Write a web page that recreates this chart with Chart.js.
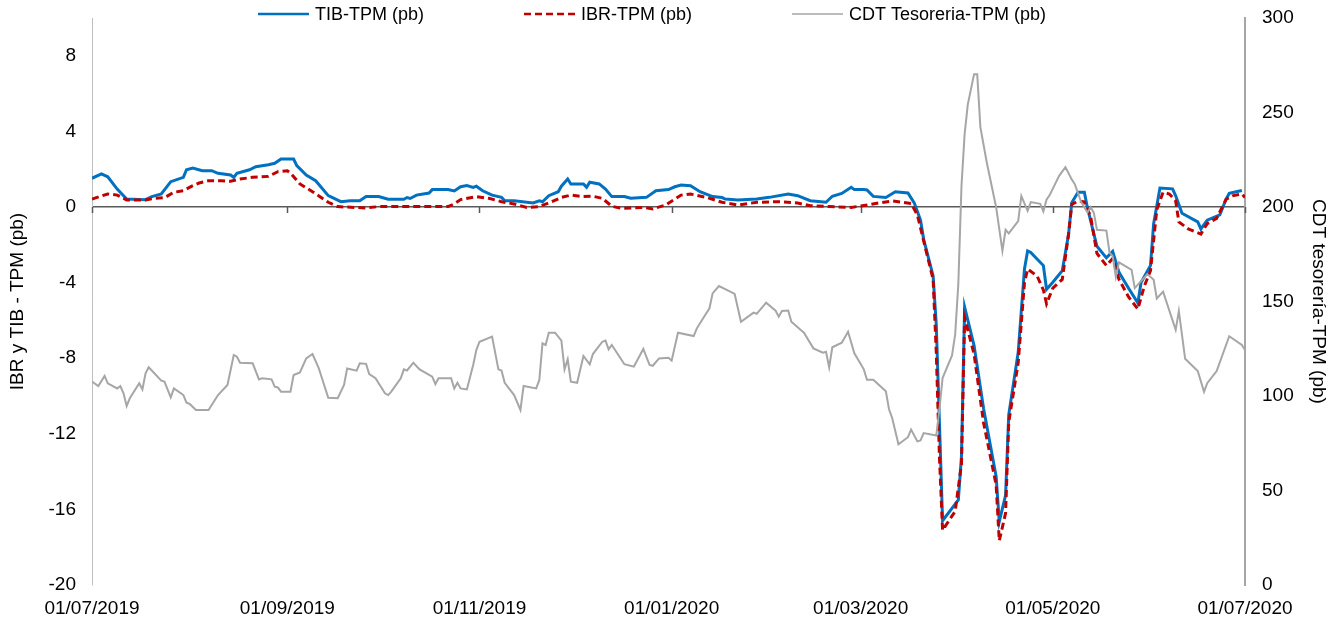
<!DOCTYPE html>
<html>
<head>
<meta charset="utf-8">
<script src="https://cdn.jsdelivr.net/npm/chart.js@4/dist/chart.umd.min.js"></script>
<style>
  html, body { margin: 0; padding: 0; background: #fff; }
  #wrap { width: 1337px; height: 625px; }
</style>
</head>
<body>
<div id="wrap"><canvas id="c" width="1337" height="625"></canvas></div>
<script>
// ---------------- DATA ----------------
const seriesNames = ['TIB-TPM (pb)', 'IBR-TPM (pb)', 'CDT Tesoreria-TPM (pb)'];
const xTickDates = ['2019-07-01','2019-09-01','2019-11-01','2020-01-01','2020-03-01','2020-05-01','2020-07-01'];
const leftTicksStep = 4;
const rightTicksStep = 50;

const tibDates = ['2019-07-01','2019-07-04','2019-07-06','2019-07-09','2019-07-12','2019-07-18','2019-07-20','2019-07-23','2019-07-26','2019-07-30','2019-07-31','2019-08-02','2019-08-05','2019-08-08','2019-08-10','2019-08-14','2019-08-15','2019-08-16','2019-08-20','2019-08-22','2019-08-26','2019-08-28','2019-08-30','2019-09-03','2019-09-04','2019-09-07','2019-09-10','2019-09-14','2019-09-18','2019-09-21','2019-09-24','2019-09-26','2019-09-30','2019-10-03','2019-10-08','2019-10-09','2019-10-10','2019-10-12','2019-10-16','2019-10-17','2019-10-22','2019-10-24','2019-10-26','2019-10-28','2019-10-30','2019-10-31','2019-11-02','2019-11-05','2019-11-08','2019-11-09','2019-11-12','2019-11-18','2019-11-20','2019-11-21','2019-11-23','2019-11-26','2019-11-27','2019-11-29','2019-11-30','2019-12-04','2019-12-05','2019-12-06','2019-12-09','2019-12-11','2019-12-13','2019-12-17','2019-12-19','2019-12-24','2019-12-27','2019-12-31','2020-01-02','2020-01-04','2020-01-07','2020-01-10','2020-01-14','2020-01-17','2020-01-18','2020-01-22','2020-01-28','2020-02-01','2020-02-07','2020-02-10','2020-02-14','2020-02-19','2020-02-21','2020-02-24','2020-02-27','2020-02-28','2020-03-02','2020-03-03','2020-03-05','2020-03-09','2020-03-12','2020-03-16','2020-03-18','2020-03-20','2020-03-21','2020-03-24','2020-03-25','2020-03-26','2020-03-27','2020-04-01','2020-04-02','2020-04-03','2020-04-06','2020-04-09','2020-04-13','2020-04-14','2020-04-16','2020-04-17','2020-04-20','2020-04-22','2020-04-23','2020-04-24','2020-04-28','2020-04-29','2020-05-01','2020-05-04','2020-05-06','2020-05-07','2020-05-09','2020-05-11','2020-05-12','2020-05-15','2020-05-18','2020-05-20','2020-05-22','2020-05-25','2020-05-28','2020-05-29','2020-06-01','2020-06-02','2020-06-04','2020-06-08','2020-06-09','2020-06-11','2020-06-16','2020-06-17','2020-06-19','2020-06-23','2020-06-25','2020-06-26','2020-06-30'];
const tibValues = [1.52,1.75,1.6,0.95,0.42,0.39,0.55,0.69,1.34,1.57,1.97,2.06,1.92,1.92,1.78,1.69,1.57,1.78,1.97,2.13,2.24,2.31,2.54,2.54,2.19,1.69,1.39,0.6,0.28,0.33,0.33,0.55,0.55,0.41,0.41,0.5,0.45,0.63,0.74,0.92,0.92,0.85,1.07,1.13,1.04,1.1,0.86,0.63,0.51,0.33,0.33,0.21,0.33,0.28,0.6,0.81,1.1,1.48,1.22,1.22,1.04,1.31,1.22,0.95,0.55,0.55,0.46,0.51,0.86,0.92,1.07,1.16,1.13,0.81,0.55,0.5,0.42,0.37,0.42,0.51,0.69,0.6,0.33,0.25,0.57,0.72,1.04,0.92,0.92,0.9,0.56,0.5,0.81,0.74,0.22,-0.7,-1.71,-3.65,-6.23,-11.4,-16.6,-15.5,-13.2,-5.3,-7.33,-10.65,-14.25,-16.65,-15.26,-11.0,-7.7,-3.28,-2.32,-2.4,-3.1,-4.35,-3.98,-3.37,-1.43,0.22,0.78,0.78,-0.05,-2.08,-2.69,-2.35,-3.46,-4.29,-5.08,-4.0,-3.1,-0.88,1.0,0.96,0.59,-0.33,-0.79,-1.16,-0.7,-0.42,0.41,0.72,0.87];

const ibrDates = ['2019-07-01','2019-07-06','2019-07-09','2019-07-12','2019-07-18','2019-07-21','2019-07-24','2019-07-27','2019-07-30','2019-08-02','2019-08-04','2019-08-07','2019-08-11','2019-08-14','2019-08-17','2019-08-21','2019-08-26','2019-08-29','2019-09-01','2019-09-02','2019-09-05','2019-09-09','2019-09-14','2019-09-17','2019-09-26','2019-09-30','2019-10-22','2019-10-24','2019-10-26','2019-10-31','2019-11-04','2019-11-08','2019-11-12','2019-11-16','2019-11-20','2019-11-24','2019-11-27','2019-11-30','2019-12-04','2019-12-07','2019-12-10','2019-12-13','2019-12-16','2019-12-23','2019-12-26','2019-12-30','2020-01-02','2020-01-04','2020-01-07','2020-01-12','2020-01-17','2020-01-22','2020-01-28','2020-02-04','2020-02-10','2020-02-14','2020-02-20','2020-02-27','2020-03-01','2020-03-07','2020-03-11','2020-03-17','2020-03-19','2020-03-21','2020-03-24','2020-03-25','2020-03-26','2020-03-27','2020-03-31','2020-04-02','2020-04-03','2020-04-06','2020-04-09','2020-04-13','2020-04-14','2020-04-16','2020-04-17','2020-04-20','2020-04-22','2020-04-23','2020-04-26','2020-04-28','2020-04-29','2020-05-01','2020-05-04','2020-05-06','2020-05-07','2020-05-09','2020-05-11','2020-05-13','2020-05-15','2020-05-18','2020-05-20','2020-05-22','2020-05-25','2020-05-28','2020-05-30','2020-06-01','2020-06-03','2020-06-05','2020-06-07','2020-06-09','2020-06-10','2020-06-13','2020-06-17','2020-06-19','2020-06-22','2020-06-25','2020-06-27','2020-06-30','2020-07-01'];
const ibrValues = [0.42,0.69,0.63,0.37,0.37,0.46,0.49,0.78,0.86,1.13,1.27,1.39,1.39,1.36,1.48,1.57,1.62,1.87,1.92,1.8,1.22,0.81,0.25,0.02,-0.05,0.02,0.02,0.16,0.39,0.55,0.46,0.28,0.16,-0.02,0.02,0.28,0.51,0.63,0.55,0.57,0.46,0.04,-0.07,-0.02,-0.1,0.1,0.42,0.63,0.69,0.51,0.25,0.1,0.25,0.28,0.21,0.07,0.02,-0.02,0.05,0.22,0.32,0.19,-0.42,-1.8,-3.83,-7.7,-13.2,-17.1,-16.1,-13.6,-5.86,-7.78,-11.4,-14.7,-17.66,-16.2,-11.4,-8.25,-4.0,-3.28,-3.65,-4.39,-5.12,-4.29,-3.83,-1.43,0.13,0.32,0.27,-0.51,-2.45,-3.1,-2.72,-3.83,-4.75,-5.4,-4.2,-3.37,-0.14,0.78,0.69,0.32,-0.79,-1.16,-1.43,-0.88,-0.6,0.41,0.59,0.69,0.5];

const cdtDates = ['2019-07-01','2019-07-03','2019-07-05','2019-07-06','2019-07-09','2019-07-10','2019-07-11','2019-07-12','2019-07-13','2019-07-16','2019-07-17','2019-07-18','2019-07-19','2019-07-23','2019-07-24','2019-07-26','2019-07-27','2019-07-30','2019-07-31','2019-08-01','2019-08-03','2019-08-07','2019-08-08','2019-08-10','2019-08-13','2019-08-15','2019-08-16','2019-08-17','2019-08-21','2019-08-23','2019-08-24','2019-08-27','2019-08-28','2019-08-29','2019-08-30','2019-09-02','2019-09-03','2019-09-05','2019-09-07','2019-09-09','2019-09-11','2019-09-12','2019-09-14','2019-09-17','2019-09-19','2019-09-20','2019-09-23','2019-09-24','2019-09-26','2019-09-27','2019-09-29','2019-09-30','2019-10-02','2019-10-03','2019-10-04','2019-10-07','2019-10-08','2019-10-09','2019-10-11','2019-10-13','2019-10-17','2019-10-18','2019-10-19','2019-10-23','2019-10-24','2019-10-25','2019-10-26','2019-10-28','2019-10-30','2019-10-31','2019-11-01','2019-11-05','2019-11-07','2019-11-08','2019-11-09','2019-11-12','2019-11-14','2019-11-15','2019-11-19','2019-11-20','2019-11-21','2019-11-22','2019-11-23','2019-11-25','2019-11-27','2019-11-28','2019-11-29','2019-11-30','2019-12-02','2019-12-04','2019-12-06','2019-12-07','2019-12-10','2019-12-11','2019-12-12','2019-12-13','2019-12-17','2019-12-20','2019-12-23','2019-12-25','2019-12-26','2019-12-28','2019-12-31','2020-01-01','2020-01-03','2020-01-08','2020-01-09','2020-01-11','2020-01-13','2020-01-14','2020-01-16','2020-01-18','2020-01-21','2020-01-23','2020-01-27','2020-01-28','2020-01-31','2020-02-03','2020-02-04','2020-02-05','2020-02-07','2020-02-08','2020-02-11','2020-02-12','2020-02-15','2020-02-18','2020-02-19','2020-02-20','2020-02-21','2020-02-24','2020-02-26','2020-02-28','2020-03-02','2020-03-03','2020-03-05','2020-03-09','2020-03-10','2020-03-11','2020-03-13','2020-03-16','2020-03-17','2020-03-19','2020-03-20','2020-03-21','2020-03-25','2020-03-26','2020-03-27','2020-03-30','2020-03-31','2020-04-01','2020-04-02','2020-04-03','2020-04-04','2020-04-06','2020-04-07','2020-04-08','2020-04-10','2020-04-13','2020-04-15','2020-04-16','2020-04-17','2020-04-20','2020-04-21','2020-04-23','2020-04-24','2020-04-27','2020-04-28','2020-04-29','2020-04-30','2020-05-03','2020-05-05','2020-05-07','2020-05-08','2020-05-10','2020-05-12','2020-05-13','2020-05-14','2020-05-15','2020-05-18','2020-05-19','2020-05-20','2020-05-21','2020-05-22','2020-05-26','2020-05-27','2020-05-31','2020-06-02','2020-06-03','2020-06-05','2020-06-09','2020-06-10','2020-06-12','2020-06-16','2020-06-18','2020-06-19','2020-06-22','2020-06-26','2020-06-30','2020-07-01'];
const cdtValues = [107.6,105.3,110.6,106.7,104,105.3,101.4,94.7,98.8,106.7,103.5,112,115.2,108.1,107.6,99.3,104,100.5,96.5,95.8,92.6,92.6,95.2,100.5,105.8,121.7,120.8,117.6,117.3,108.8,109.4,108.8,104.9,104.5,102.3,102.3,111.1,112.5,119.9,122.2,114.6,109.4,99.1,98.8,105.8,114.6,113.4,117.3,117,111.6,109.4,106.7,101.4,100.5,102.3,109.4,114.1,113.5,117.6,114.1,110.2,106.3,109.4,109.4,104,107,104,103.5,116.4,124.3,128.7,131.4,114.1,113.5,107,100.5,92.6,105.3,104,108.5,127.9,127,133.5,133.5,129.3,114.1,119.4,107.6,107,121.2,116.8,122.2,128.7,129.3,124.7,127,116.8,115.5,124.9,116.4,116,119.9,120.2,118.7,133.5,131.7,135.8,141.1,146.4,154.3,158.2,156.5,154,139.3,144.1,143.5,149.4,145.1,142,145,145.2,139.3,134.9,133.5,125.2,122.9,123.4,115.2,125.8,128.2,134,122.6,114.1,108.6,108.6,102.5,93,88.4,74.5,78.2,82.2,76,76.5,80.4,79.1,93,109.5,121.5,132.6,159.3,211,238.6,254.2,270.3,270.3,242.3,223.8,199.9,176.8,187.9,186,192.5,205.8,198,202.6,201.7,197.7,203.9,206.3,216.5,221.1,214.6,212,202.6,197.1,200,197,187.9,187.5,175.9,174,163,170.7,166.7,157.1,164.5,161.5,151.6,155.2,135,145,119.7,113.2,102.2,106.8,113.2,131.6,127,124.3];

// ---------------- HELPERS ----------------
const FONT = "'Liberation Sans', Arial, sans-serif";
const toTime = s => { const [y, m, d] = s.split('-').map(Number); return Date.UTC(y, m - 1, d); };
const pts = (dates, vals) => dates.map((d, i) => ({ x: toTime(d), y: vals[i] }));
const fmtDate = v => {
  const dt = new Date(v);
  const dd = String(dt.getUTCDate()).padStart(2, '0');
  const mm = String(dt.getUTCMonth() + 1).padStart(2, '0');
  return dd + '/' + mm + '/' + dt.getUTCFullYear();
};
const noPad = s => { s.paddingTop = 0; s.paddingBottom = 0; s.paddingLeft = 0; s.paddingRight = 0; };

// zero line tick marks on the x axis (drawn at y=0 of the left scale)
const zeroTicks = {
  id: 'zeroTicks',
  beforeDatasetsDraw(chart) {
    const x = chart.scales.x, y = chart.scales.yL, ctx = chart.ctx;
    const y0 = y.getPixelForValue(0);
    ctx.save();
    ctx.strokeStyle = '#595959';
    ctx.lineWidth = 1.5;
    x.ticks.forEach(t => {
      const px = Math.round(x.getPixelForValue(t.value)) + 0.5;
      ctx.beginPath();
      ctx.moveTo(px, y0);
      ctx.lineTo(px, y0 + 6);
      ctx.stroke();
    });
    ctx.restore();
  }
};

// legend drawn on top of the chart, as in the original
const topLegend = {
  id: 'topLegend',
  afterDraw(chart) {
    const ctx = chart.ctx;
    const lineLen = 51, gap = 6, itemGap = 100, yMid = 14;
    ctx.save();
    ctx.font = '18px ' + FONT;
    ctx.textBaseline = 'middle';
    const ds = chart.data.datasets;
    const widths = ds.map(d => lineLen + gap + ctx.measureText(d.label).width);
    const total = widths.reduce((a, b) => a + b, 0) + itemGap * (ds.length - 1);
    let x = 652 - total / 2;
    ds.forEach((d, i) => {
      ctx.beginPath();
      ctx.strokeStyle = d.borderColor;
      ctx.lineWidth = Math.max(1.5, d.borderWidth - 0.5);
      ctx.setLineDash(d.borderDash || []);
      ctx.moveTo(x, yMid);
      ctx.lineTo(x + lineLen, yMid);
      ctx.stroke();
      ctx.setLineDash([]);
      ctx.fillStyle = '#000';
      ctx.fillText(d.label, x + lineLen + gap, yMid + 1);
      x += widths[i] + itemGap;
    });
    ctx.restore();
  }
};

new Chart(document.getElementById('c'), {
  type: 'line',
  data: {
    datasets: [
      { label: seriesNames[0], data: pts(tibDates, tibValues), yAxisID: 'yL',
        borderColor: '#0070C0', borderWidth: 3, pointRadius: 0, tension: 0, order: 2 },
      { label: seriesNames[1], data: pts(ibrDates, ibrValues), yAxisID: 'yL',
        borderColor: '#C00000', borderWidth: 3, borderDash: [7, 4], pointRadius: 0, tension: 0, order: 1 },
      { label: seriesNames[2], data: pts(cdtDates, cdtValues), yAxisID: 'yR',
        borderColor: '#A6A6A6', borderWidth: 2, pointRadius: 0, tension: 0, order: 0 }
    ]
  },
  options: {
    responsive: false,
    animation: false,
    devicePixelRatio: 1,
    layout: { padding: { top: 18, left: 0, right: 0, bottom: 0 } },
    plugins: { legend: { display: false }, tooltip: { enabled: false } },
    scales: {
      x: {
        type: 'linear',
        min: toTime(xTickDates[0]),
        max: toTime(xTickDates[xTickDates.length - 1]),
        grid: { display: false, drawTicks: false },
        border: { display: false },
        afterBuildTicks: s => { s.ticks = xTickDates.map(d => ({ value: toTime(d) })); },
        afterFit: s => { s.height = 40; noPad(s); },
        ticks: {
          autoSkip: false, maxRotation: 0, padding: 12,
          color: '#000', font: { family: FONT, size: 19 },
          callback: v => fmtDate(v)
        }
      },
      yL: {
        position: 'left',
        min: -20, max: 10,
        afterBuildTicks: s => { s.ticks = s.ticks.filter(t => t.value % leftTicksStep === 0); },
        afterFit: s => { s.width = 92; noPad(s); },
        grid: {
          drawTicks: false,
          color: c => (c.tick && c.tick.value === 0) ? '#595959' : 'rgba(0,0,0,0)',
          lineWidth: 1.5
        },
        border: { color: '#BFBFBF', width: 1 },
        ticks: { stepSize: leftTicksStep, padding: 16, color: '#000', font: { family: FONT, size: 19 } },
        title: { display: true, text: 'IBR y TIB - TPM (pb)', color: '#000',
                 font: { family: FONT, size: 19 }, padding: { top: 6, bottom: 0 } }
      },
      yR: {
        position: 'right',
        min: 0, max: 300,
        afterFit: s => { s.width = 92; noPad(s); },
        grid: { display: false, drawTicks: false, drawOnChartArea: false },
        border: { color: '#A6A6A6', width: 2 },
        ticks: { stepSize: rightTicksStep, padding: 17, color: '#000', font: { family: FONT, size: 19 } },
        title: { display: true, text: 'CDT tesorería-TPM (pb)', color: '#000',
                 font: { family: FONT, size: 19 }, padding: { top: 7, bottom: 0 } }
      }
    }
  },
  plugins: [zeroTicks, topLegend]
});
</script>
</body>
</html>
